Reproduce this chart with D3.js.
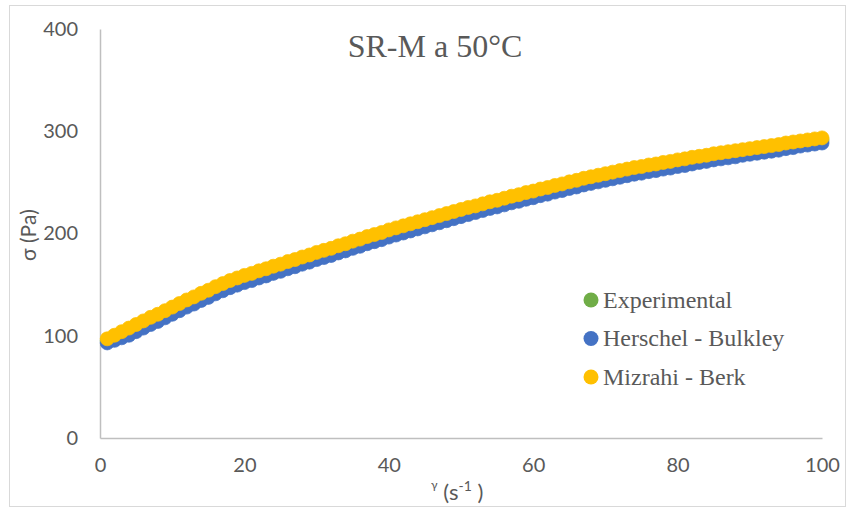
<!DOCTYPE html>
<html>
<head>
<meta charset="utf-8">
<script src="https://cdn.jsdelivr.net/npm/d3@7"></script>
<style>
  body { margin: 0; background: #fff; }
  svg { display: block; }
</style>
</head>
<body>
<svg width="848" height="508"></svg>
<script>
const svg = d3.select("svg");

// shear rate (1/s)
const shearRate = d3.range(1, 101);

// one value per shear rate
const experimental = [
  95, 98.5, 102, 105.5, 109, 112.5, 116, 119, 122.5, 126,
  129.5, 133, 136, 139.5, 142.5, 146, 149, 152, 154.5, 157,
  159, 161.5, 163.5, 166, 168, 170.5, 172.5, 175, 177, 179.5,
  181.5, 183.5, 186, 188, 190.5, 192.5, 195, 197, 199, 201.5,
  203.5, 205.5, 207.5, 209.5, 211.5, 213.5, 215.5, 217.5, 219.5, 221.5,
  223.5, 225, 227, 229, 230.5, 232.5, 234.5, 236, 238, 239.5,
  241.5, 243, 245, 246.5, 248.5, 250, 252, 253.5, 255, 256.5,
  258, 259.5, 261, 262.5, 263.5, 265, 266, 267.5, 268.5, 270,
  271, 272.5, 273.5, 274.5, 276, 277, 278, 279, 280, 281,
  282, 283, 284, 285, 286.5, 287.5, 288.5, 289.5, 290.5, 291.5
];

const herschelBulkley = [
  93, 95.5, 98, 100.5, 104, 107.5, 111, 114, 117.5, 121,
  124.5, 128, 131, 134.5, 137.5, 141, 144, 147, 149.5, 152,
  154, 156.5, 158.5, 161, 163, 165.5, 167.5, 170, 172, 174.5,
  176.5, 178.5, 181, 183, 185.5, 187.5, 190, 192, 194, 196.5,
  198.5, 200.5, 202.5, 204.5, 206.5, 208.5, 210.5, 212.5, 214.5, 216.5,
  218.5, 220.5, 222.5, 224.5, 226, 228, 230, 231.5, 233.5, 235,
  237, 238.5, 240.5, 242, 244, 245.5, 247.5, 249, 250.5, 252,
  253.5, 255, 256.5, 258, 259, 260.5, 261.5, 263, 264, 265.5,
  266.5, 268, 269.5, 270.5, 272, 273, 274, 275, 276.5, 277.5,
  278.5, 279.5, 280.5, 281.5, 283, 284, 285.5, 286.5, 287.5, 288.5
];

const mizrahiBerk = [
  97, 100.5, 104, 107.5, 111, 114.5, 118, 121, 124.5, 128,
  131.5, 135, 138, 141.5, 144.5, 148, 151, 154, 156.5, 159,
  161, 163.5, 165.5, 168, 170, 172.5, 174.5, 177, 179, 181.5,
  183.5, 185.5, 188, 190, 192.5, 194.5, 197, 199, 201, 203.5,
  205.5, 207.5, 209.5, 211.5, 213.5, 215.5, 217.5, 219.5, 221.5, 223.5,
  225.5, 227, 229, 231, 232.5, 234.5, 236.5, 238, 240, 241.5,
  243.5, 245, 247, 248.5, 250.5, 252, 254, 255.5, 257, 258.5,
  260, 261.5, 263, 264.5, 265.5, 267, 268, 269.5, 270.5, 272,
  273, 274.5, 275.5, 276.5, 278, 279, 280, 281, 282, 283,
  284, 285, 286, 287, 288.5, 289.5, 290.5, 291.5, 292.5, 293.5
];

const seriesNames = ["Experimental", "Herschel - Bulkley", "Mizrahi - Berk"];
const seriesColors = ["#70ad47", "#4472c4", "#ffc000"];
const xTicks = [0, 20, 40, 60, 80, 100];
const yTicks = [0, 100, 200, 300, 400];

const series = [experimental, herschelBulkley, mizrahiBerk].map((vals, i) => ({
  name: seriesNames[i],
  color: seriesColors[i],
  points: vals.map((v, j) => ({ x: shearRate[j], y: v }))
}));

const x = d3.scaleLinear().domain([0, 100]).range([100, 822]);
const y = d3.scaleLinear().domain([0, 400]).range([438, 29]);

// chart border
svg.append("rect")
  .attr("x", 9.5).attr("y", 5.5)
  .attr("width", 836).attr("height", 501)
  .attr("fill", "none")
  .attr("stroke", "#d9d9d9");

// axes
const xAxis = svg.append("g")
  .attr("transform", `translate(0,${y(0)})`)
  .call(d3.axisBottom(x).tickValues(xTicks).tickSize(0).tickPadding(20));
const yAxis = svg.append("g")
  .attr("transform", `translate(${x(0)},0)`)
  .call(d3.axisLeft(y).tickValues(yTicks).tickSize(0).tickPadding(22));

[xAxis, yAxis].forEach((g) => {
  g.select(".domain").attr("stroke", "#bfbfbf").attr("stroke-width", 1.5);
  g.selectAll("text")
    .attr("fill", "#595959")
    .style("font-family", "Lato, 'Open Sans', sans-serif")
    .style("font-size", "20px");
});
xAxis.selectAll("text").attr("dy", "0.71em");

// points
series.forEach((s) => {
  svg.append("g")
    .selectAll("circle")
    .data(s.points)
    .enter()
    .append("circle")
    .attr("cx", (d) => x(d.x))
    .attr("cy", (d) => y(d.y))
    .attr("r", 7)
    .attr("fill", s.color)
    .attr("stroke", s.color)
    .attr("stroke-width", 0.75);
});

// title
svg.append("text")
  .attr("x", 435).attr("y", 57)
  .attr("text-anchor", "middle")
  .attr("fill", "#595959")
  .style("font-family", "'Liberation Serif', 'Times New Roman', serif")
  .style("font-size", "32px")
  .text("SR-M a 50°C");

// y axis title
svg.append("text")
  .attr("transform", "translate(36,235) rotate(-90)")
  .attr("text-anchor", "middle")
  .attr("fill", "#595959")
  .style("font-family", "Lato, 'Open Sans', sans-serif")
  .style("font-size", "21px")
  .text("σ (Pa)");

// x axis title
const xt = svg.append("text")
  .attr("x", 431).attr("y", 500)
  .attr("fill", "#595959")
  .style("font-family", "Lato, 'Open Sans', sans-serif")
  .style("font-size", "22px");
xt.append("tspan").attr("dy", -11).style("font-size", "12px").text("γ");
xt.append("tspan").attr("dy", 11).text(" (s");
xt.append("tspan").attr("dy", -9).style("font-size", "14px").text("-1");
xt.append("tspan").attr("dy", 9).text(" )");

// legend
const legend = svg.append("g")
  .selectAll("g")
  .data(series)
  .enter()
  .append("g")
  .attr("transform", (d, i) => `translate(591,${300 + i * 38.5})`);
legend.append("circle")
  .attr("r", 7.5)
  .attr("fill", (d) => d.color);
legend.append("text")
  .attr("x", 12)
  .attr("dy", "0.33em")
  .attr("fill", "#595959")
  .style("font-family", "'Liberation Serif', 'Times New Roman', serif")
  .style("font-size", "24px")
  .text((d) => d.name);
</script>
</body>
</html>
